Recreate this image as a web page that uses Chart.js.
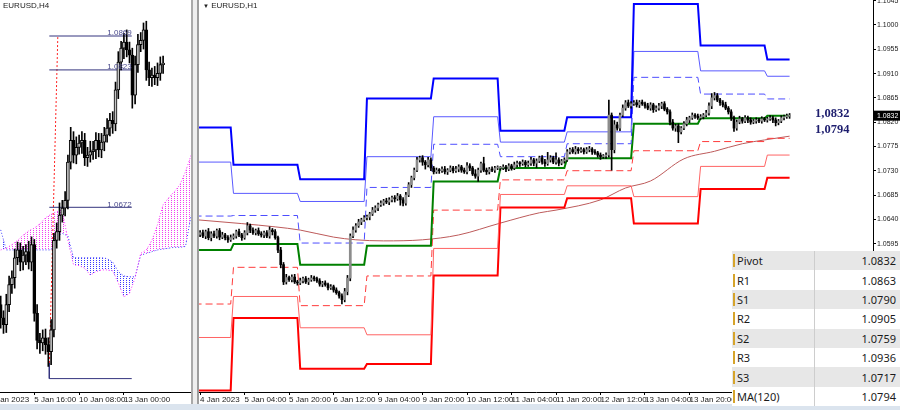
<!DOCTYPE html>
<html>
<head>
<meta charset="utf-8">
<script src="https://cdn.jsdelivr.net/npm/chart.js@4.4.1/dist/chart.umd.min.js"></script>
<style>
  body { margin: 0; width: 900px; height: 410px; overflow: hidden; background: #fff; position: relative; font-family: "Liberation Sans", Arial, sans-serif; }
  .abs { position: absolute; }
  #h4box { left: 0; top: 0; width: 191px; height: 404px; }
  #h1box { left: 199px; top: 0; width: 701px; height: 404px; }
  #sepA { left: 191px; top: 0; width: 2px; height: 410px; background: #a9a9a9; }
  #sepB { left: 193px; top: 0; width: 4px; height: 410px; background: #eeeeee; }
  #sepC { left: 197px; top: 0; width: 2px; height: 410px; background: #9d9d9d; }
  #foot { left: 0; top: 404px; width: 900px; height: 6px; background: #dbe4ee; }
  .title { top: 1px; font-size: 8px; color: #222; white-space: nowrap; }
  .big { left: 815px; font: bold 12.5px "Liberation Serif", serif; color: #1e1e6e; line-height: 13px; }
  #levels { left: 732px; top: 251px; width: 168px; border-collapse: collapse; font: 11px "Noto Sans", sans-serif; color: #1b1b1b; }
  #levels tr { height: 19.4px; }
  #levels td { padding: 0; white-space: nowrap; }
  #levels td.name { width: 81px; padding-left: 1px; }
  #levels td.val { text-align: right; padding-right: 4px; border-left: 1px solid #cdcdcd; }
  .mk { display: inline-block; width: 2px; height: 13px; background: #d6a42b; margin-right: 2px; vertical-align: -2px; }
</style>
</head>
<body>
<div id="h4box" class="abs"><canvas id="h4" width="191" height="404"></canvas></div>
<div id="sepA" class="abs"></div><div id="sepB" class="abs"></div><div id="sepC" class="abs"></div>
<div id="h1box" class="abs"><canvas id="h1" width="701" height="404"></canvas></div>
<div id="foot" class="abs"></div>
<div id="t4" class="abs title" style="left:3px">EURUSD,H4</div>
<div id="t1" class="abs title" style="left:203px"><span style="font-size:6px">&#9660;</span> EURUSD,H1</div>
<div id="big1" class="abs big" style="top:107px"></div>
<div id="big2" class="abs big" style="top:123px"></div>
<table id="levels" class="abs"></table>
<script>
// ---------- right panel: EURUSD H1 ----------
const h1TickIdx = [0, 16, 32, 48, 64, 80, 96, 112, 128, 144, 160, 176];
const h1TickText = ['4 Jan 2023', '5 Jan 04:00', '5 Jan 20:00', '6 Jan 12:00', '9 Jan 04:00', '9 Jan 20:00',
  '10 Jan 12:00', '11 Jan 04:00', '11 Jan 20:00', '12 Jan 12:00', '13 Jan 04:00', '13 Jan 20:00'];
const priceTicks = [1.0595, 1.0640, 1.0685, 1.0730, 1.0775, 1.0820, 1.0865, 1.0910, 1.0955, 1.1000, 1.1045];

// daily pivot levels (first bar index of each day)
const dayStart = [-2, 12, 36, 60, 84, 108, 132, 156, 180, 204];
const lastBar = 212;
const r3 = [1.0810, 1.0741, 1.0714, 1.0864, 1.0901, 1.0804, 1.0829, 1.1039, 1.0962, 1.0936];
const r2 = [1.0746, 1.0688, 1.0673, 1.0756, 1.0830, 1.0783, 1.0802, 1.0951, 1.0915, 1.0905];
const r1 = [1.0646, 1.0647, 1.0596, 1.0699, 1.0779, 1.0756, 1.0780, 1.0903, 1.0872, 1.0863];
const pivot = [1.0583, 1.0594, 1.0556, 1.0591, 1.0710, 1.0735, 1.0753, 1.0817, 1.0827, 1.0832];
const s1 = [1.0483, 1.0551, 1.0480, 1.0535, 1.0657, 1.0713, 1.0730, 1.0767, 1.0784, 1.0790];
const s2 = [1.0421, 1.0497, 1.0439, 1.0426, 1.0586, 1.0686, 1.0702, 1.0682, 1.0738, 1.0759];
const s3 = [1.0323, 1.0457, 1.0363, 1.0372, 1.0536, 1.0662, 1.0679, 1.0632, 1.0696, 1.0717];

// MA(120)
const maIdx = [-1, 15, 27, 36, 48, 56, 66, 80, 93, 108, 122, 128, 144, 153, 162, 174, 185, 195, 203, 212];
const maVal = [1.0639, 1.0632, 1.0626, 1.0620, 1.0607, 1.0602, 1.0600, 1.0602, 1.0611, 1.0633, 1.0652, 1.0657,
  1.0676, 1.0698, 1.0711, 1.0752, 1.0766, 1.0780, 1.0787, 1.0794];

const bidPrice = 1.0832;
const h1Open0 = 1.0612;
const h1Close = [
  1.0615,1.0609,1.0617,1.0606,1.0613,1.0609,1.0619,1.0607,1.0611,1.0606,1.0602,1.0606,
  1.0609,1.0617,1.0611,1.0606,1.0615,1.0628,1.0620,1.0615,1.0619,1.0613,1.0611,1.0615,1.0609,1.0620,1.0617,1.0606,1.0583,1.0556,1.0524,1.0532,1.0528,1.0533,1.0524,1.0522,
  1.0526,1.0530,1.0524,1.0528,1.0531,1.0530,1.0526,1.0520,1.0522,1.0519,1.0513,1.0515,1.0509,1.0504,1.0498,1.0491,1.0506,1.0531,1.0609,1.0620,1.0628,1.0635,1.0639,1.0643,
  1.0644,1.0650,1.0657,1.0661,1.0667,1.0670,1.0674,1.0672,1.0676,1.0680,1.0678,1.0683,1.0676,1.0670,1.0685,1.0704,1.0717,1.0731,1.0750,1.0754,1.0746,1.0741,1.0750,1.0735,
  1.0728,1.0731,1.0730,1.0733,1.0728,1.0731,1.0735,1.0730,1.0733,1.0737,1.0731,1.0728,1.0739,1.0735,1.0724,1.0720,1.0731,1.0743,1.0731,1.0728,1.0733,1.0731,1.0735,1.0735,
  1.0735,1.0737,1.0733,1.0739,1.0735,1.0741,1.0744,1.0743,1.0746,1.0741,1.0744,1.0750,1.0744,1.0748,1.0754,1.0746,1.0743,1.0750,1.0754,1.0746,1.0750,1.0744,1.0748,1.0750,
  1.0765,1.0769,1.0765,1.0770,1.0767,1.0769,1.0765,1.0769,1.0770,1.0765,1.0763,1.0759,1.0756,1.0757,1.0759,1.0833,1.0769,1.0815,1.0809,1.0833,1.0846,1.0856,1.0850,1.0854,
  1.0856,1.0852,1.0857,1.0854,1.0850,1.0846,1.0852,1.0843,1.0846,1.0850,1.0854,1.0844,1.0839,1.0820,1.0809,1.0813,1.0802,1.0809,1.0817,1.0824,1.0828,1.0833,1.0831,1.0828,
  1.0830,1.0833,1.0837,1.0850,1.0865,1.0869,1.0861,1.0856,1.0852,1.0846,1.0839,1.0828,1.0809,1.0820,1.0826,1.0822,1.0828,1.0824,1.0820,1.0822,1.0824,1.0822,1.0826,1.0824,
  1.0826,1.0828,1.0824,1.0819,1.0822,1.0828,1.0830,1.0831,1.0833
];
// wick length beyond the body, in pips
const h1WickUp = [
  4,5,3,6,4,5,3,4,5,3,4,5,
  4,3,5,3,4,6,3,4,3,5,4,3,4,6,3,4,3,5,4,6,3,4,5,3,
  5,3,4,3,5,4,3,4,3,4,3,4,3,4,3,4,6,5,4,6,4,5,3,4,
  4,3,5,4,3,4,3,5,4,3,4,5,3,4,5,4,3,4,5,3,4,3,5,4,
  3,4,3,4,5,3,4,3,5,4,3,4,6,4,3,8,4,3,12,4,3,4,3,4,
  3,4,3,4,3,5,4,3,4,3,4,5,3,4,3,4,5,14,4,3,13,4,3,4,
  4,3,4,5,3,4,3,4,5,3,4,3,4,3,4,28,4,8,5,4,6,4,5,4,
  4,5,3,4,3,5,4,3,4,5,3,4,3,4,5,3,4,3,4,5,3,4,3,4,
  4,3,5,6,8,6,4,3,4,5,3,4,3,4,5,3,4,3,4,3,4,3,4,3,
  3,4,3,4,3,4,3,4,3
];
const h1WickDn = [
  4,3,5,4,6,3,4,5,3,4,5,3,
  3,4,3,5,3,4,5,3,4,3,4,5,3,4,6,3,5,6,5,4,3,4,3,4,
  3,4,3,5,3,4,3,4,5,3,4,3,4,3,4,8,4,6,5,3,4,3,5,3,
  4,5,3,4,5,3,4,3,5,4,6,3,10,5,4,3,5,4,3,4,6,8,4,5,
  4,3,5,3,4,5,3,4,3,5,4,3,4,5,3,4,10,4,3,5,4,3,4,3,
  4,3,5,3,4,3,4,5,3,4,3,4,5,8,3,4,5,3,4,3,4,5,3,4,
  3,4,3,4,5,3,4,3,4,5,3,4,5,3,4,4,38,6,4,5,3,4,3,4,
  3,4,5,3,4,3,4,5,3,4,5,3,4,5,4,6,20,4,3,4,5,3,4,3,
  3,4,3,4,5,4,3,5,4,3,4,5,6,4,3,4,3,5,4,3,4,3,4,3,
  4,3,5,6,4,3,4,3,4
];

// ---------- left panel: EURUSD H4 ----------
const h4TickIdx = [-16, 0, 16, 32];
const h4TickText = ['3 Jan 2023', '5 Jan 16:00', '10 Jan 08:00', '13 Jan 00:00'];
const h4FirstIdx = -12;
const h4Open0 = 1.0560;
const h4Close = [
  1.0545,1.0537,1.0560,1.0583,1.0591,1.0614,1.0623,1.0609,1.0617,1.0621,1.0609,1.0629,
  1.0550,1.0519,1.0516,1.0522,1.0514,1.0506,1.0531,1.0634,1.0644,1.0663,1.0671,1.0680,
  1.0724,1.0749,1.0732,1.0741,1.0746,1.0749,1.0729,1.0732,1.0736,1.0738,1.0749,1.0738,
  1.0747,1.0755,1.0763,1.0772,1.0768,1.0807,1.0839,1.0855,1.0862,1.0853,1.0847,1.0801,
  1.0836,1.0859,1.0864,1.0876,1.0830,1.0821,1.0824,1.0821,1.0826,1.0836,1.0838
];
const h4WickUp = [
  10,8,12,10,8,10,9,8,10,8,12,9,
  6,10,8,9,10,8,12,8,10,14,9,10,
  8,15,10,12,9,10,8,9,12,10,9,8,
  10,9,11,8,10,9,12,8,10,14,9,8,
  10,12,9,8,10,9,8,10,12,9,8
];
const h4WickDn = [
  12,10,9,8,10,12,8,10,9,11,8,10,
  9,10,12,9,11,17,15,8,9,10,8,9,
  10,8,9,10,8,12,9,10,8,9,10,8,
  9,10,8,9,11,8,10,9,12,8,9,15,
  10,9,8,10,12,9,10,8,9,8,10
];
// Ichimoku cloud (Senkou span A / B)
const cloudIdx = [-12,-10,-8,-6,-4,-2,0,2,4,6,8,10,12,14,16,18,20,22,24,26,28,30,32,34,36,38,40,42,44,46,48,50,52,54,56];
const spanA = [1.0623,1.0625,1.0629,1.0634,1.0640,1.0645,1.0648,1.0653,1.0660,1.0664,1.0667,1.0669,1.0634,
  1.0606,1.0605,1.0602,1.0594,1.0598,1.0600,1.0600,1.0599,1.0585,1.0569,1.0573,1.0591,1.0619,
  1.0623,1.0634,1.0652,1.0675,1.0683,1.0690,1.0698,1.0713,1.0732];
const spanB = [1.0646,1.0623,1.0623,1.0623,1.0623,1.0623,1.0623,1.0623,1.0623,1.0623,1.0639,1.0642,1.0639,
  1.0614,1.0614,1.0614,1.0614,1.0614,1.0614,1.0613,1.0609,1.0598,1.0593,1.0592,1.0592,1.0617,
  1.0619,1.0621,1.0623,1.0624,1.0625,1.0626,1.0626,1.0627,1.0663];
// drawn levels and trend line
const fibLevels = [1.0869, 1.0830, 1.0672, 1.0475];
const fibLabels = ['1.0869', '1.0823', '1.0672', ''];
const fibFrom = 5.36, fibTo = 34.8;
const fibFootP = 1.0493;
const trendIdx = [5.4, 8.4];
const trendP = [1.0493, 1.0869];

// ---------- table ----------
const levelNames = ['Pivot', 'R1', 'S1', 'R2', 'S2', 'R3', 'S3', 'MA(120)'];
const levelSeries = [pivot, r1, s1, r2, s2, r3, s3, maVal];

const PIP = 0.0001;
Chart.defaults.font.family = '"Liberation Sans", Arial, sans-serif';
Chart.defaults.color = '#1a1a1a';

function buildCandles(open0, closes, up, dn, firstIdx, bull, bear) {
  const wick = [], body = [], fill = [];
  let open = open0;
  closes.forEach(function (c, k) {
    const x = firstIdx + k;
    wick.push({x: x, y: [Math.min(open, c) - dn[k] * PIP, Math.max(open, c) + up[k] * PIP]});
    body.push({x: x, y: [open, c]});
    fill.push(c >= open ? bull : bear);
    open = c;
  });
  return {wick: wick, body: body, fill: fill};
}

function levelLine(vals, color, width, dash) {
  const pts = [];
  vals.forEach(function (v, d) {
    const end = d < vals.length - 1 ? dayStart[d + 1] - 1 : lastBar;
    pts.push({x: dayStart[d], y: v}, {x: end, y: v});
  });
  return {type: 'line', data: pts, borderColor: color, borderWidth: width, borderDash: dash || [],
    pointRadius: 0, order: 2};
}

// dotted hatch used by the cloud
function dots(color) {
  const c = document.createElement('canvas');
  c.width = 3; c.height = 2;
  const g = c.getContext('2d');
  g.fillStyle = color;
  g.fillRect(0, 0, 1, 1);
  return g.createPattern(c, 'repeat');
}

function fixedAxis(size) {
  return function (s) {
    if (s.isHorizontal()) s.height = size; else s.width = size;
    s.paddingLeft = 0; s.paddingRight = 0; s.paddingTop = 0; s.paddingBottom = 0;
  };
}

function timeAxis(min, max, idx, text) {
  return {
    type: 'linear', min: min, max: max, offset: false,
    grid: {display: true, offset: false, drawOnChartArea: false, drawTicks: true, tickLength: 3, color: '#000'},
    border: {display: true, color: '#000', width: 1},
    ticks: {autoSkip: false, maxRotation: 0, minRotation: 0, align: 'start', padding: 0, font: {size: 8},
      callback: function (v) { return text[idx.indexOf(v)]; }},
    afterBuildTicks: function (s) { s.ticks = idx.map(function (v) { return {value: v}; }); },
    afterFit: fixedAxis(12)
  };
}

// ----- H1 chart -----
const h1 = buildCandles(h1Open0, h1Close, h1WickUp, h1WickDn, 0, '#8c8c8c', '#000000');

const bidLabel = {
  id: 'bidLabel',
  afterDraw: function (chart) {
    const ctx = chart.ctx, area = chart.chartArea, py = chart.scales.y.getPixelForValue(bidPrice);
    ctx.save();
    ctx.fillStyle = '#000';
    ctx.fillRect(area.right + 1, py - 5, 27, 10);
    ctx.fillStyle = '#fff';
    ctx.font = '7px "Liberation Sans"';
    ctx.textBaseline = 'middle';
    ctx.fillText(bidPrice.toFixed(4), area.right + 4, py);
    ctx.restore();
  }
};

new Chart(document.getElementById('h1').getContext('2d'), {
  type: 'bar',
  data: {
    datasets: [
      {data: h1.body, backgroundColor: h1.fill, barThickness: 2, minBarLength: 1, grouped: false, order: 0},
      {data: h1.wick, backgroundColor: '#000', barThickness: 1, grouped: false, order: 1},
      levelLine(r3, '#0000ff', 2),
      levelLine(r2, '#5a5aff', 1),
      levelLine(r1, '#4d4dff', 1, [7, 4]),
      levelLine(pivot, '#008000', 2),
      levelLine(s1, '#ff3b3b', 1, [7, 4]),
      levelLine(s2, '#ff6464', 1),
      levelLine(s3, '#ff0000', 2),
      {type: 'line', data: maIdx.map(function (x, k) { return {x: x, y: maVal[k]}; }),
        borderColor: '#bd5a5a', borderWidth: 1, pointRadius: 0, tension: 0.4,
        cubicInterpolationMode: 'monotone', order: 2}
    ]
  },
  options: {
    responsive: false, animation: false, devicePixelRatio: 1,
    layout: {padding: 0},
    plugins: {legend: {display: false}, tooltip: {enabled: false}},
    scales: {
      x: timeAxis(-0.4, 242, h1TickIdx, h1TickText),
      y: {
        type: 'linear', position: 'right', min: 1.0320, max: 1.10463, beginAtZero: false,
        grid: {display: true, drawOnChartArea: false, drawTicks: true, tickLength: 3, color: '#000'},
        border: {display: true, color: '#000', width: 1},
        ticks: {autoSkip: false, padding: 1, font: {size: 7}, callback: function (v) { return v.toFixed(4); }},
        afterBuildTicks: function (s) { s.ticks = priceTicks.map(function (v) { return {value: v}; }); },
        afterFit: fixedAxis(27)
      }
    }
  },
  plugins: [bidLabel]
});

// ----- H4 chart -----
const h4 = buildCandles(h4Open0, h4Close, h4WickUp, h4WickDn, h4FirstIdx, '#c4c4c4', '#000000');

const fibText = {
  id: 'fibText',
  afterDatasetsDraw: function (chart) {
    const ctx = chart.ctx, x = chart.scales.x, y = chart.scales.y;
    ctx.save();
    ctx.font = '8px "Liberation Sans"';
    ctx.fillStyle = '#4a4a8c';
    ctx.textAlign = 'right';
    ctx.textBaseline = 'bottom';
    fibLevels.forEach(function (v, k) {
      if (fibLabels[k]) ctx.fillText(fibLabels[k], x.getPixelForValue(fibTo), y.getPixelForValue(v) + 1);
    });
    ctx.restore();
  }
};

const h4Sets = [
  {data: h4.body, backgroundColor: h4.fill, borderColor: '#000', borderWidth: 1, borderSkipped: false,
    barThickness: 3, minBarLength: 1, grouped: false, order: 0},
  {data: h4.wick, backgroundColor: '#000', barThickness: 1, grouped: false, order: 1}
];
fibLevels.forEach(function (v, k) {
  const pts = [{x: fibFrom, y: v}, {x: fibTo, y: v}];
  if (k === fibLevels.length - 1) pts.unshift({x: fibFrom, y: fibFootP});
  h4Sets.push({type: 'line', data: pts, borderColor: '#34347e', borderWidth: 1, pointRadius: 0, order: 2});
});
h4Sets.push({type: 'line', data: trendIdx.map(function (x, k) { return {x: x, y: trendP[k]}; }),
  borderColor: '#ff2020', borderWidth: 1, borderDash: [2, 2], pointRadius: 0, order: 2});
h4Sets.push({type: 'line', data: cloudIdx.map(function (x, k) { return {x: x, y: spanA[k]}; }),
  borderColor: '#ff30ff', borderWidth: 1, borderDash: [1, 2], pointRadius: 0, order: 3,
  fill: {target: '+1', above: dots('#f040f0'), below: dots('#3a3aff')}});
h4Sets.push({type: 'line', data: cloudIdx.map(function (x, k) { return {x: x, y: spanB[k]}; }),
  borderColor: '#3a3aff', borderWidth: 1, borderDash: [1, 2], pointRadius: 0, order: 3});

new Chart(document.getElementById('h4').getContext('2d'), {
  type: 'bar',
  data: {datasets: h4Sets},
  options: {
    responsive: false, animation: false, devicePixelRatio: 1,
    layout: {padding: 0},
    plugins: {legend: {display: false}, tooltip: {enabled: false}},
    scales: {
      x: timeAxis(-12.25, 55.96, h4TickIdx, h4TickText),
      y: {type: 'linear', display: false, min: 1.04596, max: 1.09104, beginAtZero: false}
    }
  },
  plugins: [fibText]
});

// ----- labels and level table -----
document.getElementById('big1').textContent = pivot[pivot.length - 1].toFixed(4).replace('.', ',');
document.getElementById('big2').textContent = maVal[maVal.length - 1].toFixed(4).replace('.', ',');
const table = document.getElementById('levels');
levelNames.forEach(function (name, k) {
  const tr = document.createElement('tr');
  tr.style.background = k % 2 === 0 ? '#e7e7e7' : '#ffffff';
  const series = levelSeries[k];
  tr.innerHTML = '<td class="name"><span class="mk"></span>' + name + '</td><td class="val">' +
    series[series.length - 1].toFixed(4) + '</td>';
  table.appendChild(tr);
});
</script>
</body>
</html>
